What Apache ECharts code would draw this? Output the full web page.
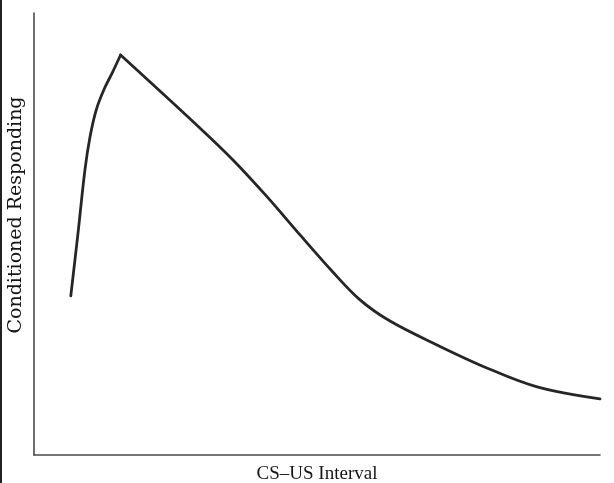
<!DOCTYPE html>
<html>
<head>
<meta charset="utf-8">
<script src="https://cdn.jsdelivr.net/npm/echarts@6/dist/echarts.min.js"></script>
<style>
  html, body { margin: 0; padding: 0; background: #fff; }
  #wrap { position: relative; width: 614px; height: 483px; }
  #edge { position: absolute; left: 0; top: 0; width: 2px; height: 483px; background: #222; }
  #chart { width: 614px; height: 483px; }
</style>
</head>
<body>
<div id="wrap">
  <div id="chart"></div>
  <div id="edge"></div>
</div>
<script>
// CS-US interval (relative units, 0-100) and conditioned responding (0-100)
const intervals = [6.5, 7.8, 9.0, 9.9, 11.0, 12.4, 13.8, 15.3, 29.3, 35.2, 41.2, 47.0, 52.8, 57.6, 62.9, 71.2, 80.0, 88.9, 100];
const responding = [36.0, 50.5, 64.5, 72.0, 78.1, 82.8, 86.4, 90.5, 74.0, 66.7, 58.4, 49.8, 41.4, 35.1, 30.3, 24.9, 19.7, 15.4, 12.7];
const xTitle = 'CS–US Interval';
const yTitle = 'Conditioned Responding';

// the peak is a sharp corner, so rising and falling limbs are drawn as two smooth pieces
const peak = responding.indexOf(Math.max(...responding));
const points = intervals.map((x, i) => [x, responding[i]]);
const rising = points.slice(0, peak + 1);
const falling = points.slice(peak);

let chart = echarts.init(document.getElementById('chart'));

let lineStyle = { color: '#262626', width: 2.8, cap: 'round', join: 'round' };

let option = {
  animation: false,
  grid: {
    left: 34,
    right: 14,
    top: 13,
    bottom: 28,
    outerBoundsMode: 'none',
    containLabel: false
  },
  xAxis: {
    type: 'value',
    min: 0,
    max: 100,
    name: xTitle,
    nameLocation: 'middle',
    nameGap: 10,
    nameTextStyle: {
      color: '#151515',
      fontFamily: 'Liberation Serif',
      fontSize: 19
    },
    axisLine: { lineStyle: { color: '#4a4a4a', width: 1.6 } },
    axisTick: { show: false },
    axisLabel: { show: false },
    splitLine: { show: false }
  },
  yAxis: {
    type: 'value',
    min: 0,
    max: 100,
    name: yTitle,
    nameLocation: 'middle',
    nameGap: 8,
    nameTextStyle: {
      color: '#151515',
      fontFamily: 'DejaVu Serif',
      fontSize: 19,
      padding: [0, 0, 0, 38]
    },
    axisLine: { show: true, lineStyle: { color: '#4a4a4a', width: 1.6 } },
    axisTick: { show: false },
    axisLabel: { show: false },
    splitLine: { show: false }
  },
  series: [
    {
      type: 'line',
      data: rising,
      showSymbol: false,
      smooth: 0.35,
      lineStyle: lineStyle
    },
    {
      type: 'line',
      data: falling,
      showSymbol: false,
      smooth: 0.35,
      lineStyle: lineStyle
    }
  ]
};

chart.setOption(option);
</script>
</body>
</html>
